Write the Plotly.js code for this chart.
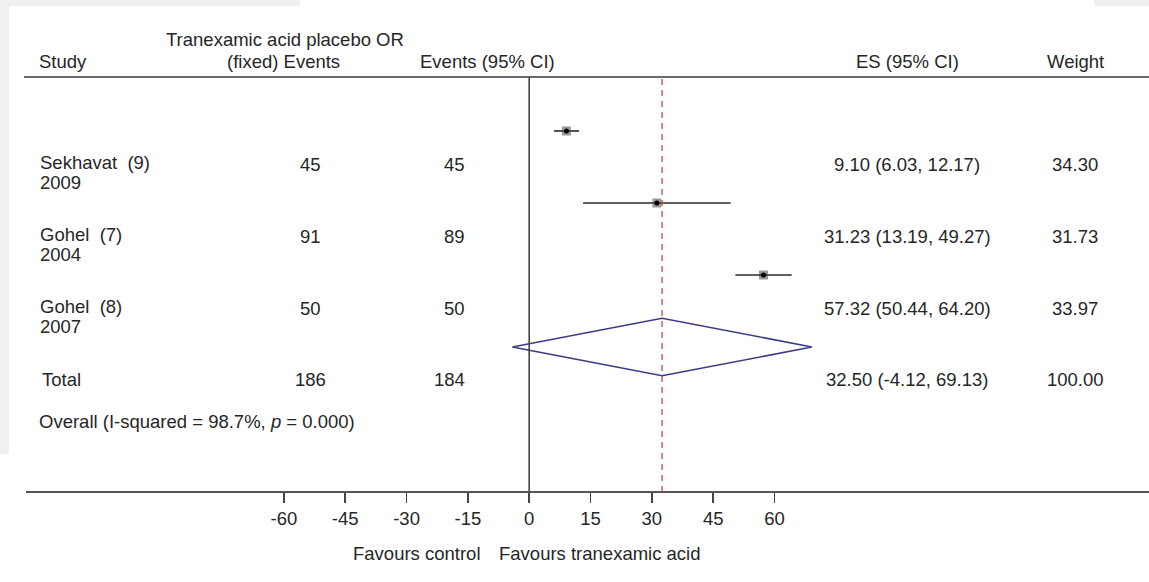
<!DOCTYPE html>
<html>
<head>
<meta charset="utf-8">
<script src="https://cdn.plot.ly/plotly-3.0.1.min.js"></script>
<style>html,body{margin:0;padding:0;background:#fff;}#chart{width:1149px;height:582px;}</style>
</head>
<body>
<div id="chart"></div>
<script>
// ---- data ----
const studies = ["Sekhavat\u00a0\u00a0(9)", "Gohel\u00a0\u00a0(7)", "Gohel\u00a0\u00a0(8)"];
const years = ["2009", "2004", "2007"];
const tranexamicEvents = [45, 91, 50];
const placeboEvents = [45, 89, 50];
const es = [9.10, 31.23, 57.32];
const ciLow = [6.03, 13.19, 50.44];
const ciHigh = [12.17, 49.27, 64.20];
const weights = [34.30, 31.73, 33.97];
const totalTranexamic = 186;
const totalPlacebo = 184;
const pooledEs = 32.50;
const pooledLow = -4.12;
const pooledHigh = 69.13;
const totalWeight = 100.00;
const iSquared = 98.7;
const pValue = "0.000";
const xTicks = [-60, -45, -30, -15, 0, 15, 30, 45, 60];

// ---- layout helpers ----
const W = 1149, H = 582;
const FONT = "Liberation Sans, Arial, Helvetica, sans-serif";
const TXT = "#262626";
const FS = 18.5;
const px = v => v / W;
const py = v => 1 - v / H;
const rows = studies.map((s, i) => i + 1);
const totalRow = studies.length + 1;

const traces = [];
// CI lines + boxes
traces.push({
  x: es, y: rows, type: "scatter", mode: "markers",
  marker: {symbol: "square", size: 9, color: "rgba(70,70,70,0.55)"},
  error_x: {type: "data", symmetric: false,
    array: es.map((v, i) => ciHigh[i] - v),
    arrayminus: es.map((v, i) => v - ciLow[i]),
    width: 0, thickness: 1.6, color: "#2a2a2a"},
  hoverinfo: "skip", showlegend: false
});
traces.push({
  x: es, y: rows, type: "scatter", mode: "markers",
  marker: {symbol: "circle", size: 5, color: "#000"},
  hoverinfo: "skip", showlegend: false
});
// pooled diamond
const dh = 0.4;
traces.push({
  x: [pooledLow, pooledEs, pooledHigh, pooledEs, pooledLow],
  y: [totalRow, totalRow - dh, totalRow, totalRow + dh, totalRow],
  type: "scatter", mode: "lines",
  line: {color: "#3c3c86", width: 1.6},
  hoverinfo: "skip", showlegend: false
});

const ann = [];
function t(text, x, y, opts) {
  ann.push(Object.assign({text: text, x: x, y: y, xref: "paper", yref: "paper",
    showarrow: false, font: {family: FONT, size: FS, color: TXT},
    xanchor: "center", yanchor: "middle"}, opts || {}));
}
// headers
t("Study", px(37), py(62), {xanchor: "left"});
t("Tranexamic acid placebo OR", px(285), py(40));
t("(fixed) Events", px(283), py(62));
t("Events (95% CI)", px(487), py(62));
t("ES (95% CI)", px(907), py(62));
t("Weight", px(1075), py(62));

const fmt = v => v.toFixed(2);
studies.forEach((s, i) => {
  const r = rows[i];
  t(s, px(38), r + 0.44, {xanchor: "left", yref: "y"});
  t(years[i], px(38), r + 0.72, {xanchor: "left", yref: "y"});
  t(String(tranexamicEvents[i]), px(310), r + 0.46, {yref: "y"});
  t(String(placeboEvents[i]), px(467), r + 0.46, {xanchor: "right", yref: "y"});
  t(fmt(es[i]) + " (" + fmt(ciLow[i]) + ", " + fmt(ciHigh[i]) + ")", px(907), r + 0.46, {yref: "y"});
  t(fmt(weights[i]), px(1075), r + 0.46, {yref: "y"});
});
t("Total", px(40), totalRow + 0.45, {xanchor: "left", yref: "y"});
t(String(totalTranexamic), px(310), totalRow + 0.45, {yref: "y"});
t(String(totalPlacebo), px(467), totalRow + 0.45, {xanchor: "right", yref: "y"});
t(fmt(pooledEs) + " (" + fmt(pooledLow) + ", " + fmt(pooledHigh) + ")", px(907), totalRow + 0.45, {yref: "y"});
t(fmt(totalWeight), px(1075), totalRow + 0.45, {yref: "y"});
t("Overall (I-squared = " + iSquared.toFixed(1) + "%, <i>p</i> = " + pValue + ")", px(37), totalRow + 1.04, {xanchor: "left", yref: "y"});
// favours labels
t("Favours control", 0, py(553), {xref: "x", xanchor: "right", xshift: -46});
t("Favours tranexamic acid", 0, py(553), {xref: "x", xanchor: "left", xshift: -32});

const shapes = [
  // scan background patches
  {type: "rect", xref: "paper", yref: "paper", x0: 0, x1: px(9), y0: py(454), y1: 1, fillcolor: "#f0f0f0", line: {width: 0}, layer: "below"},
  {type: "rect", xref: "paper", yref: "paper", x0: 0, x1: px(300), y0: py(6), y1: 1, fillcolor: "#f0f0f0", line: {width: 0}, layer: "below"},
  {type: "rect", xref: "paper", yref: "paper", x0: px(1094), x1: 1, y0: py(6), y1: 1, fillcolor: "#f0f0f0", line: {width: 0}, layer: "below"},
  // header rule
  {type: "line", xref: "paper", yref: "paper", x0: px(24), x1: 1, y0: py(77), y1: py(77), line: {color: "#6a6a6a", width: 2}},
  // axis rule
  {type: "line", xref: "paper", yref: "paper", x0: px(26), x1: 1, y0: py(492), y1: py(492), line: {color: "#555", width: 2}},
  // null line
  {type: "line", xref: "x", yref: "paper", x0: 0, x1: 0, y0: py(492), y1: py(77), line: {color: "#444", width: 1.6}},
  // pooled estimate line
  {type: "line", xref: "x", yref: "paper", x0: pooledEs, x1: pooledEs, y0: py(492), y1: py(77), line: {color: "#cc4444", width: 1.3, dash: "6px,5px"}}
];

const zeroPx = 529.2, unit = 4.088;
const layout = {
  width: W, height: H,
  margin: {l: 0, r: 0, t: 0, b: 0, pad: 0},
  paper_bgcolor: "#fff", plot_bgcolor: "rgba(0,0,0,0)",
  font: {family: FONT, size: FS, color: TXT},
  xaxis: {domain: [0, 1], range: [-zeroPx / unit, (W - zeroPx) / unit],
    tickvals: xTicks, ticktext: xTicks.map(String),
    ticks: "outside", ticklen: 10, tickwidth: 1.6, tickcolor: "#444",
    tickfont: {family: FONT, size: FS, color: TXT},
    showgrid: false, zeroline: false, showline: false, automargin: false, fixedrange: true},
  yaxis: {domain: [(H - 492) / H, 1], range: [(492 - 59) / 72, -59 / 72],
    visible: false, showgrid: false, zeroline: false, automargin: false, fixedrange: true},
  shapes: shapes, annotations: ann, showlegend: false
};
Plotly.newPlot("chart", traces, layout, {staticPlot: true, displayModeBar: false});
</script>
</body>
</html>
